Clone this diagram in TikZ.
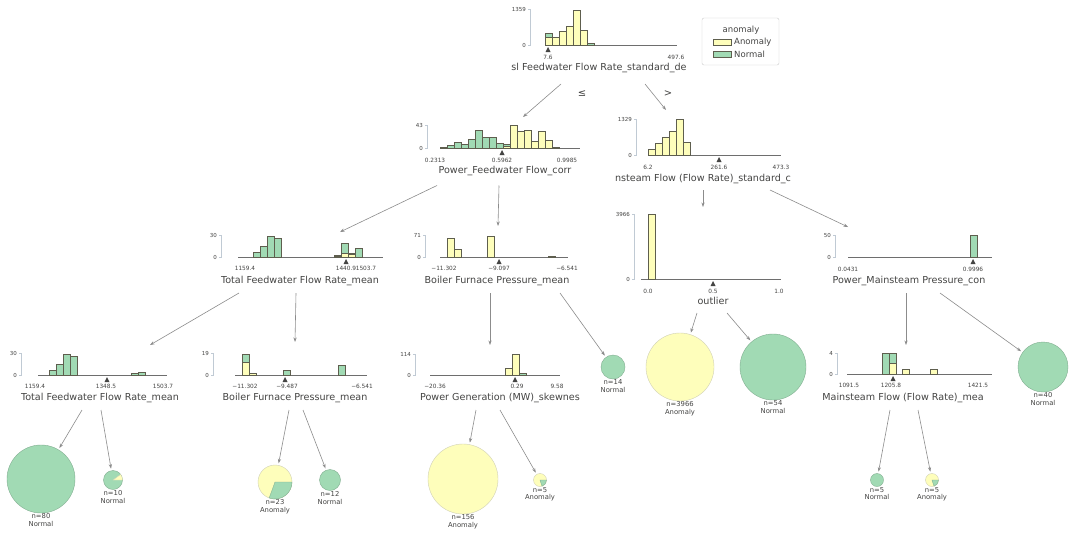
\documentclass[tikz,border=0pt]{standalone}
\usepackage{fontspec}
\setmainfont{DejaVu Sans}
\usetikzlibrary{arrows.meta}
\definecolor{anomcol}{HTML}{FEFEBB}
\definecolor{normcol}{HTML}{A1DAB4}
\definecolor{txtc}{HTML}{444443}
\definecolor{baredge}{HTML}{5E5E4E}
\definecolor{edgec}{HTML}{8C8C8C}
\definecolor{spinec}{HTML}{C0CAD4}
\definecolor{axisc}{HTML}{6E6E6E}
\definecolor{legedge}{HTML}{CCCCCC}

\tikzset{
  hbox/.style 2 args={inner sep=0, outer sep=0, minimum width=#1, minimum height=#2},
  bary/.style={fill=anomcol, draw=baredge, line width=0.35pt},
  barg/.style={fill=normcol, draw=baredge, line width=0.35pt},
  spine/.style={draw=spinec, line width=0.5pt},
  xaxis/.style={draw=axisc, line width=0.5pt},
  splitmark/.style={fill=txtc},
  ylbl/.style={anchor=east, inner sep=0, text=txtc, font=\fontsize{5.5}{6.5}\selectfont},
  xlbl/.style={inner sep=0, text=txtc, font=\fontsize{5.8}{7}\selectfont},
  feat/.style={inner sep=0, text=txtc, font=\fontsize{9.6}{11}\selectfont},
  elbl/.style={inner sep=0, text=txtc, font=\fontsize{10}{12}\selectfont},
  edge/.style={draw=edgec, line width=0.6pt, -{Stealth[length=4.5pt, width=3.2pt]}},
  leafy/.style={circle, inner sep=0, outer sep=0, fill=anomcol, draw=anomcol!70!black!60, line width=0.4pt, minimum size=#1},
  leafg/.style={circle, inner sep=0, outer sep=0, fill=normcol, draw=normcol!80!black, line width=0.4pt, minimum size=#1},
  leaftxt/.style={inner sep=0.5pt, align=center, text=txtc, font=\fontsize{6.8}{7.8}\selectfont},
  legtxt/.style={inner sep=0, text=txtc, font=\fontsize{8.5}{10}\selectfont}
}

\begin{document}
\begin{tikzpicture}[x=1pt, y=-1pt]
  \fill[white] (0,0) rectangle (1073,536);

  % Legend
  \node[draw=legedge, rounded corners=2pt, minimum width=77, minimum height=47, inner sep=0] (legend) at (740.5,41.5) {};
  \node[legtxt] (leg-title) at (741,30) {anomaly};
  \draw[bary] (713,39) rectangle (731,45);
  \draw[barg] (713,51) rectangle (731,57);
  \node[legtxt, anchor=west] (leg-anom) at (734,42) {Anomaly};
  \node[legtxt, anchor=west] (leg-norm) at (734,54) {Normal};

  % Root: feedwater std
  \node[hbox={200}{82}] (root) at (600,43) {};
  \draw[spine] (528,9) -- (530,9) -- (530,45) -- (528,45);
  \node[ylbl] (root-y1) at (526,9) {1359};
  \node[ylbl] (root-y0) at (526,45) {0};
  \draw[xaxis] (545,45) -- (677,45);
  \foreach \x/\h in {545/8.3, 552/8.3, 559/14.3, 566/19.3, 573/35, 580/15}
    \draw[bary] (\x,45) rectangle ++(7,-\h);
  \foreach \x/\yb/\h in {545/8.3/3.3, 587/0/1.5}
    \draw[barg] (\x,45-\yb) rectangle ++(7,-\h);
  \fill[splitmark] (548,47) -- ++(2.5,5) -- ++(-5,0) -- cycle;
  \node[xlbl] (root-x1) at (548,57) {7.6};
  \node[xlbl] (root-x2) at (676,57) {497.6};
  \node[feat] (root-lbl) at (599,68) {sl Feedwater Flow Rate\_standard\_de};

  % Power_Feedwater Flow_corr
  \node[hbox={190}{68.5}] (pfc) at (500,151.25) {};
  \draw[spine] (425,125) -- (427,125) -- (427,148) -- (425,148);
  \node[ylbl] (pfc-y1) at (423,125) {43};
  \node[ylbl] (pfc-y0) at (423,148) {0};
  \draw[xaxis] (440,148) -- (580,148);
  \foreach \x/\h in {503/2, 510/22.7, 517/17, 524/17.7, 531/7, 538/17, 545/8.3, 552/1}
    \draw[bary] (\x,148) rectangle ++(7,-\h);
  \foreach \x/\yb/\h in {440/0/1, 447/0/2.7, 454/0/6, 461/0/4.3, 468/0/9.3, 475/0/18.3, 482/0/11, 489/0/11, 496/0/5, 503/2/1.7}
    \draw[barg] (\x,148-\yb) rectangle ++(7,-\h);
  \fill[splitmark] (502,150) -- ++(2.5,5) -- ++(-5,0) -- cycle;
  \node[xlbl] (pfc-x1) at (435,160) {0.2313};
  \node[xlbl] (pfc-x2) at (502,160) {0.5962};
  \node[xlbl] (pfc-x3) at (567,160) {0.9985};
  \node[feat] (pfc-lbl) at (505,171) {Power\_Feedwater Flow\_corr};

  % Mainsteam flow std
  \node[hbox={190}{80}] (msd) at (703,150) {};
  \draw[spine] (634,119) -- (636,119) -- (636,155) -- (634,155);
  \node[ylbl] (msd-y1) at (632,119) {1329};
  \node[ylbl] (msd-y0) at (632,155) {0};
  \draw[xaxis] (648,155) -- (781,155);
  \foreach \x/\h in {648/5.7, 655/11.7, 662/18.3, 669/24.3, 676/36, 683/12.7}
    \draw[bary] (\x,155) rectangle ++(7,-\h);
  \fill[splitmark] (719,157) -- ++(2.5,5) -- ++(-5,0) -- cycle;
  \node[xlbl] (msd-x1) at (648,167) {6.2};
  \node[xlbl] (msd-x2) at (719,167) {261.6};
  \node[xlbl] (msd-x3) at (781,167) {473.3};
  \node[feat] (msd-lbl) at (703,179) {nsteam Flow (Flow Rate)\_standard\_c};

  % Total Feedwater mean (level 3)
  \node[hbox={185}{61}] (tfm1) at (300,262.5) {};
  \draw[spine] (219,235) -- (221,235) -- (221,257) -- (219,257);
  \node[ylbl] (tfm1-y1) at (217,235) {30};
  \node[ylbl] (tfm1-y0) at (217,257) {0};
  \draw[xaxis] (238,257) -- (383,257);
  \foreach \x/\h in {334/1, 341/4.3, 348/3}
    \draw[bary] (\x,257) rectangle ++(7,-\h);
  \foreach \x/\yb/\h in {253/0/5, 260/0/11, 267/0/21, 274/0/18.7, 334/1/1, 341/4.3/10, 348/3/1.3, 355/0/9.3}
    \draw[barg] (\x,257-\yb) rectangle ++(7,-\h);
  \fill[splitmark] (346,259) -- ++(2.5,5) -- ++(-5,0) -- cycle;
  \node[xlbl] (tfm1-x1) at (245,268) {1159.4};
  \node[xlbl] (tfm1-x2) at (346,268) {1440.9};
  \node[xlbl] (tfm1-x3) at (366,268) {1503.7};
  \node[feat] (tfm1-lbl) at (300,281) {Total Feedwater Flow Rate\_mean};

  % Boiler Furnace Pressure mean (level 3)
  \node[hbox={185}{67}] (bfp1) at (497,259.5) {};
  \draw[spine] (423,235) -- (425,235) -- (425,257) -- (423,257);
  \node[ylbl] (bfp1-y1) at (421,235) {71};
  \node[ylbl] (bfp1-y0) at (421,257) {0};
  \draw[xaxis] (440,257) -- (568,257);
  \foreach \x/\h in {447/18.7, 454/7.7, 487/21}
    \draw[bary] (\x,257) rectangle ++(7,-\h);
  \draw[barg] (548,257) rectangle ++(7,-1);
  \fill[splitmark] (499,259) -- ++(2.5,5) -- ++(-5,0) -- cycle;
  \node[xlbl] (bfp1-x1) at (444,268) {−11.302};
  \node[xlbl] (bfp1-x2) at (499,268) {−9.097};
  \node[xlbl] (bfp1-x3) at (567,268) {−6.541};
  \node[feat] (bfp1-lbl) at (497,281) {Boiler Furnace Pressure\_mean};

  % outlier
  \node[hbox={180}{106}] (outl) at (703,260) {};
  \draw[spine] (632,214) -- (634,214) -- (634,279) -- (632,279);
  \node[ylbl] (outl-y1) at (630,214) {3966};
  \node[ylbl] (outl-y0) at (630,279) {0};
  \draw[xaxis] (641,279) -- (781,279);
  \draw[bary] (648,279) rectangle ++(7,-65);
  \fill[splitmark] (713,281) -- ++(2.5,5) -- ++(-5,0) -- cycle;
  \node[xlbl] (outl-x1) at (648,291) {0.0};
  \node[xlbl] (outl-x2) at (713,291) {0.5};
  \node[xlbl] (outl-x3) at (779,291) {1.0};
  \node[feat] (outl-lbl) at (713,301) {outlier};

  % Power_Mainsteam Pressure_corr
  \node[hbox={190}{66}] (pmp) at (905,260) {};
  \draw[spine] (833,235) -- (835,235) -- (835,257) -- (833,257);
  \node[ylbl] (pmp-y1) at (831,235) {50};
  \node[ylbl] (pmp-y0) at (831,257) {0};
  \draw[xaxis] (848,257) -- (992,257);
  \draw[barg] (970,257) rectangle ++(7,-22);
  \fill[splitmark] (973,259) -- ++(2.5,5) -- ++(-5,0) -- cycle;
  \node[xlbl] (pmp-x1) at (848,269) {0.0431};
  \node[xlbl] (pmp-x2) at (973,269) {0.9996};
  \node[feat] (pmp-lbl) at (909,281) {Power\_Mainsteam Pressure\_con};

  % Total Feedwater mean (level 4)
  \node[hbox={185}{65}] (tfm2) at (100,377.5) {};
  \draw[spine] (19,353) -- (21,353) -- (21,375) -- (19,375);
  \node[ylbl] (tfm2-y1) at (17,353) {30};
  \node[ylbl] (tfm2-y0) at (17,375) {0};
  \draw[xaxis] (38,375) -- (167,375);
  \foreach \x/\h in {49/5, 56/11, 63/21, 70/19, 131/1.5, 138/3}
    \draw[barg] (\x,375) rectangle ++(7,-\h);
  \fill[splitmark] (107,377) -- ++(2.5,5) -- ++(-5,0) -- cycle;
  \node[xlbl] (tfm2-x1) at (35,386) {1159.4};
  \node[xlbl] (tfm2-x2) at (106,386) {1348.5};
  \node[xlbl] (tfm2-x3) at (163,386) {1503.7};
  \node[feat] (tfm2-lbl) at (100,398) {Total Feedwater Flow Rate\_mean};

  % Boiler Furnace Pressure mean (level 4)
  \node[hbox={185}{68}] (bfp2) at (295,376) {};
  \draw[spine] (211,353) -- (213,353) -- (213,375) -- (211,375);
  \node[ylbl] (bfp2-y1) at (209,353) {19};
  \node[ylbl] (bfp2-y0) at (209,375) {0};
  \draw[xaxis] (235,375) -- (367,375);
  \foreach \x/\h in {242/13, 249/1.5}
    \draw[bary] (\x,375) rectangle ++(7,-\h);
  \foreach \x/\yb/\h in {242/13/8, 283/0/5, 338/0/10}
    \draw[barg] (\x,375-\yb) rectangle ++(7,-\h);
  \fill[splitmark] (285,377) -- ++(2.5,5) -- ++(-5,0) -- cycle;
  \node[xlbl] (bfp2-x1) at (245,386) {−11.302};
  \node[xlbl] (bfp2-x2) at (287,386) {−9.487};
  \node[xlbl] (bfp2-x3) at (362,386) {−6.541};
  \node[feat] (bfp2-lbl) at (295,398) {Boiler Furnace Pressure\_mean};

  % Power Generation skewness
  \node[hbox={185}{65}] (pgs) at (495,377.5) {};
  \draw[spine] (413,354) -- (415,354) -- (415,375) -- (413,375);
  \node[ylbl] (pgs-y1) at (411,354) {114};
  \node[ylbl] (pgs-y0) at (411,375) {0};
  \draw[xaxis] (430,375) -- (560,375);
  \foreach \x/\h in {505/7, 512/21}
    \draw[bary] (\x,375) rectangle ++(7,-\h);
  \draw[barg] (519,375) rectangle ++(7,-1.5);
  \fill[splitmark] (515,377) -- ++(2.5,5) -- ++(-5,0) -- cycle;
  \node[xlbl] (pgs-x1) at (435,386) {−20.36};
  \node[xlbl] (pgs-x2) at (517,386) {0.29};
  \node[xlbl] (pgs-x3) at (557,386) {9.58};
  \node[feat] (pgs-lbl) at (500,398) {Power Generation (MW)\_skewnes};

  % Mainsteam Flow mean
  \node[hbox={185}{65}] (mfm) at (905,377.5) {};
  \draw[spine] (835,353) -- (837,353) -- (837,374) -- (835,374);
  \node[ylbl] (mfm-y1) at (833,353) {4};
  \node[ylbl] (mfm-y0) at (833,374) {0};
  \draw[xaxis] (847,374) -- (992,374);
  \foreach \x/\h in {889/10.5, 902/5.25, 930/5.25}
    \draw[bary] (\x,374) rectangle ++(7,-\h);
  \foreach \x/\yb/\h in {882/0/21, 889/10.5/10.5}
    \draw[barg] (\x,374-\yb) rectangle ++(7,-\h);
  \fill[splitmark] (893,376) -- ++(2.5,5) -- ++(-5,0) -- cycle;
  \node[xlbl] (mfm-x1) at (849,385) {1091.5};
  \node[xlbl] (mfm-x2) at (891,385) {1205.8};
  \node[xlbl] (mfm-x3) at (978,385) {1421.5};
  \node[feat] (mfm-lbl) at (903,398) {Mainsteam Flow (Flow Rate)\_mea};

  % Leaves
  \node[leafg=24, label={[leaftxt]below:n=14\\Normal}] (l14) at (613,367) {};
  \node[leafy=68, label={[leaftxt]below:n=3966\\Anomaly}] (l3966) at (680,367) {};
  \node[leafg=66, label={[leaftxt]below:n=54\\Normal}] (l54) at (773,367) {};
  \node[leafg=50, label={[leaftxt]below:n=40\\Normal}] (l40) at (1043,367) {};
  \node[leafg=68, label={[leaftxt]below:n=80\\Normal}] (l80) at (41,479) {};
  \node[leafg=19, label={[leaftxt]below:n=10\\Normal}] (l10) at (113,480) {};
  \node[leafy=34, label={[leaftxt]below:n=23\\Anomaly}] (l23) at (275,482) {};
  \node[leafg=21, label={[leaftxt]below:n=12\\Normal}] (l12) at (330,480) {};
  \node[leafy=70, label={[leaftxt]below:n=156\\Anomaly}] (l156) at (463,479) {};
  \node[leafy=13, label={[leaftxt]below:n=5\\Anomaly}] (l5a) at (540,480) {};
  \node[leafg=13, label={[leaftxt]below:n=5\\Normal}] (l5n) at (877,480) {};
  \node[leafy=13, label={[leaftxt]below:n=5\\Anomaly}] (l5b) at (932,480) {};

  % Pie wedges
  \draw[bary, draw=anomcol!70!black!60] (l10.center) -- ++(0:9.5pt) arc[start angle=0, end angle=36, radius=9.5pt] -- cycle;
  \draw[barg, draw=normcol!80!black] (l23.center) -- ++(-110:17pt) arc[start angle=-110, end angle=0, radius=17pt] -- cycle;
  \draw[barg, draw=normcol!80!black] (l5a.center) -- ++(-72:6.5pt) arc[start angle=-72, end angle=0, radius=6.5pt] -- cycle;
  \draw[barg, draw=normcol!80!black] (l5b.center) -- ++(-72:6.5pt) arc[start angle=-72, end angle=0, radius=6.5pt] -- cycle;

  % Edges
  \draw[edge] ([xshift=-39]root.south) -- ([xshift=23]pfc.north);
  \draw[edge] ([xshift=45]root.south) -- ([xshift=-37]msd.north);
  \node[elbl] (le-lbl) at (582,94) {≤};
  \node[elbl] (gt-lbl) at (668,94) {>};
  \draw[edge] ([xshift=-63]pfc.south) -- ([xshift=40]tfm1.north);
  \draw[edge] ([xshift=-1]pfc.south) -- ([xshift=1]bfp1.north);
  \draw[edge] (msd.south) -- (outl.north);
  \draw[edge] ([xshift=67]msd.south) -- ([xshift=-57]pmp.north);
  \draw[edge] ([xshift=-61]tfm1.south) -- ([xshift=50]tfm2.north);
  \draw[edge] ([xshift=-4]tfm1.south) -- (bfp2.north);
  \draw[edge] ([xshift=-7]bfp1.south) -- ([xshift=-5]pgs.north);
  \draw[edge, shorten >=2pt] ([xshift=63]bfp1.south) -- (l14);
  \draw[edge, shorten >=2pt] ([xshift=-6]outl.south) -- (l3966);
  \draw[edge, shorten >=2pt] ([xshift=24]outl.south) -- (l54);
  \draw[edge] ([xshift=1]pmp.south) -- ([xshift=1]mfm.north);
  \draw[edge, shorten >=2pt] ([xshift=35]pmp.south) -- (l40);
  \draw[edge, shorten >=2pt] ([xshift=-18]tfm2.south) -- (l80);
  \draw[edge, shorten >=2pt] ([xshift=1]tfm2.south) -- (l10);
  \draw[edge, shorten >=2pt] ([xshift=-6]bfp2.south) -- (l23);
  \draw[edge, shorten >=2pt] ([xshift=8]bfp2.south) -- (l12);
  \draw[edge, shorten >=2pt] ([xshift=-19]pgs.south) -- (l156);
  \draw[edge, shorten >=2pt] ([xshift=5]pgs.south) -- (l5a);
  \draw[edge, shorten >=2pt] ([xshift=-15]mfm.south) -- (l5n);
  \draw[edge, shorten >=2pt] ([xshift=13]mfm.south) -- (l5b);

  \useasboundingbox (0,0) rectangle (1073,536);
\end{tikzpicture}
\end{document}
